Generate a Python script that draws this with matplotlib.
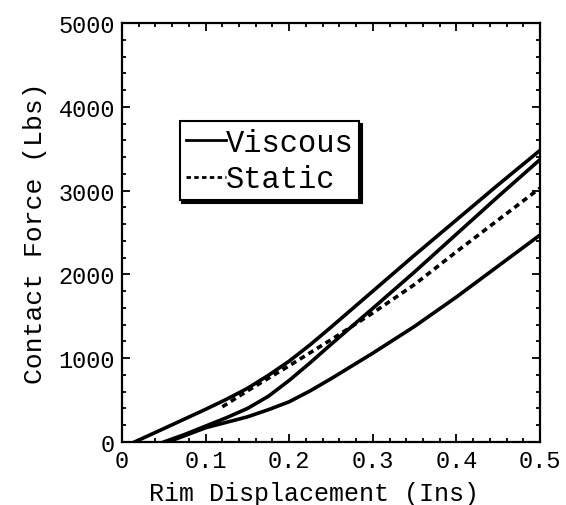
import matplotlib
matplotlib.use('agg')
import matplotlib.pyplot as plt
from matplotlib.ticker import MultipleLocator

plt.rcParams['font.family'] = ['Liberation Mono', 'DejaVu Sans Mono']

# viscous curves (three loadings)
visc1_x = [0.015, 0.05, 0.10, 0.125, 0.15, 0.175, 0.20, 0.225, 0.25, 0.275,
           0.30, 0.35, 0.40, 0.45, 0.50]
visc1_y = [0, 160, 390, 510, 640, 795, 965, 1160, 1370, 1585,
           1800, 2230, 2650, 3070, 3480]
visc2_x = [0.05, 0.075, 0.10, 0.125, 0.15, 0.175, 0.20, 0.225, 0.25, 0.275,
           0.30, 0.35, 0.40, 0.45, 0.50]
visc2_y = [0, 90, 190, 290, 400, 545, 735, 945, 1165, 1380,
           1595, 2030, 2480, 2930, 3370]
visc3_x = [0.055, 0.10, 0.15, 0.175, 0.20, 0.225, 0.25, 0.30, 0.35, 0.40, 0.45, 0.50]
visc3_y = [0, 170, 300, 385, 480, 610, 755, 1060, 1380, 1730, 2100, 2470]
# static curve
stat_x = [0.12, 0.15, 0.20, 0.25, 0.30, 0.35, 0.40, 0.45, 0.50]
stat_y = [420, 610, 910, 1220, 1540, 1880, 2270, 2650, 3030]

fig = plt.figure(figsize=(5.66, 5.06), dpi=100)
ax = fig.add_axes([122/566, 1 - 443/506, 418/566, 419/506])

lw = 2.6
ax.plot(visc1_x, visc1_y, color='k', linewidth=lw, label='Viscous')
ax.plot(visc2_x, visc2_y, color='k', linewidth=lw)
ax.plot(visc3_x, visc3_y, color='k', linewidth=lw)
ax.plot(stat_x, stat_y, color='k', linewidth=lw, dashes=(1.6, 1.2), label='Static')

ax.set_xlim(0, 0.5)
ax.set_ylim(0, 5000)
ax.xaxis.set_minor_locator(MultipleLocator(0.02))
ax.yaxis.set_major_locator(MultipleLocator(1000))
ax.yaxis.set_minor_locator(MultipleLocator(200))
ax.set_xticks([0, 0.1, 0.2, 0.3, 0.4, 0.5])
ax.set_xticklabels(['0', '0.1', '0.2', '0.3', '0.4', '0.5'])

ax.tick_params(which='both', direction='in', top=True, right=True,
               labelsize=17, width=1.3, pad=5)
ax.tick_params(which='major', length=6)
ax.tick_params(which='minor', length=3)
for s in ax.spines.values():
    s.set_linewidth(1.6)

ax.set_xlabel('Rim Displacement (Ins)', fontsize=18)
ax.xaxis.set_label_coords(0.46, -0.094)
ax.set_ylabel('Contact Force (Lbs)', fontsize=19, labelpad=8)

leg = ax.legend(loc='upper left', bbox_to_anchor=(0.138, 0.765), fontsize=22,
                handlelength=1.3, handletextpad=0.0, borderpad=0.2,
                labelspacing=0.22, borderaxespad=0, fancybox=False,
                framealpha=1, edgecolor='k',
                shadow={'color': 'k', 'alpha': 1})
leg.get_frame().set_linewidth(1.5)
for h in leg.get_lines():
    h.set_linewidth(2.0)

fig.savefig('out.png', dpi=100)
plt.close()
